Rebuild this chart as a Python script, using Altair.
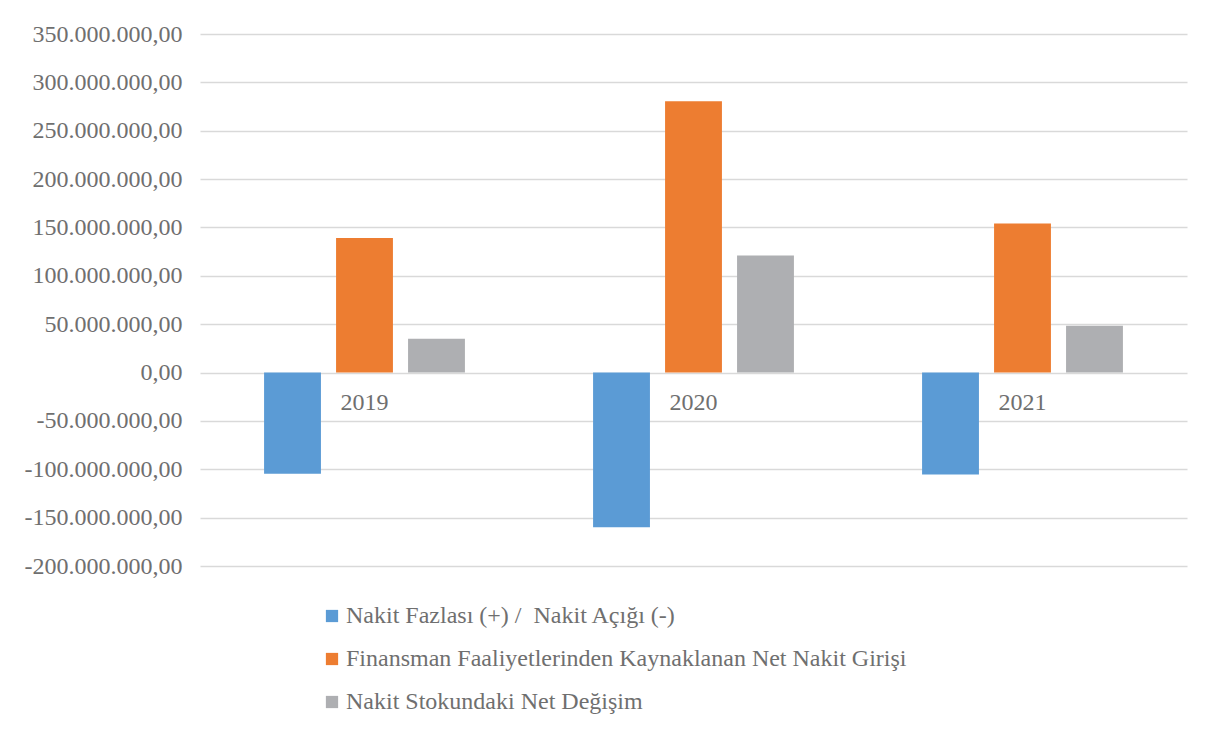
import altair as alt
import pandas as pd

years = ["2019", "2020", "2021"]
series = [
    "Nakit Fazlası (+) /  Nakit Açığı (-)",
    "Finansman Faaliyetlerinden Kaynaklanan Net Nakit Girişi",
    "Nakit Stokundaki Net Değişim",
]
nakit_fazlasi = [-104500000, -160000000, -105500000]
finansman = [139000000, 280500000, 154000000]
stok_degisim = [35000000, 121000000, 48500000]
colors = ["#5B9BD5", "#ED7D31", "#AEAFB2"]
y_ticks = [-200000000, -150000000, -100000000, -50000000, 0, 50000000, 100000000,
           150000000, 200000000, 250000000, 300000000, 350000000]

rows = []
for vals, s in zip([nakit_fazlasi, finansman, stok_degisim], series):
    for yr, v in zip(years, vals):
        rows.append({"Yıl": yr, "Seri": s, "Değer": v})
df = pd.DataFrame(rows)
df_years = pd.DataFrame({"Yıl": years, "zero": [0] * len(years)})

FONT = "'Liberation Serif', 'Times New Roman', serif"
TXT = "#6f6f6f"
FS = 24

label_expr = ("replace(replace(replace(replace(format(datum.value, ',.2f'), regexp(',', 'g'), '_'), "
              "regexp('\\\\.', 'g'), ','), regexp('_', 'g'), '.'), '\u2212', '-')")
legend_expr = "replace(datum.label, '  ', '\u00a0 ')"

x_scale = alt.Scale(paddingInner=0, paddingOuter=0)
y_scale = alt.Scale(domain=[-200000000, 350000000], nice=False)

bars = alt.Chart(df).mark_bar().encode(
    x=alt.X("Yıl:N", scale=x_scale, axis=None, sort=years),
    xOffset=alt.XOffset("Seri:N", sort=series,
                        scale=alt.Scale(paddingInner=0.21, paddingOuter=0.89)),
    y=alt.Y("Değer:Q", scale=y_scale, title=None,
            axis=alt.Axis(values=y_ticks, labelExpr=label_expr, domain=False, ticks=False,
                          grid=True, gridColor="#d9d9d9", gridWidth=1.5,
                          labelFont=FONT, labelFontSize=FS, labelColor=TXT,
                          labelPadding=18, labelLimit=300)),
    color=alt.Color("Seri:N", sort=series,
                    scale=alt.Scale(domain=series, range=colors),
                    legend=alt.Legend(title=None, orient="none", legendX=120, legendY=570,
                                      direction="vertical", symbolType="square",
                                      symbolSize=150, symbolStrokeWidth=0,
                                      labelFont=FONT, labelFontSize=FS, labelColor=TXT,
                                      labelLimit=800, rowPadding=19, symbolOffset=0,
                                      labelOffset=2, labelExpr=legend_expr)),
)

year_text = alt.Chart(df_years).mark_text(
    font=FONT, fontSize=FS, color=TXT, dy=30, baseline="middle", align="center"
).encode(
    x=alt.X("Yıl:N", scale=x_scale, sort=years, axis=None),
    y=alt.Y("zero:Q", scale=y_scale),
    text="Yıl:N",
)

chart = alt.layer(bars, year_text).properties(
    width=987, height=532,
    autosize=alt.AutoSizeParams(type="none"),
    padding={"left": 192, "top": 26, "right": 20, "bottom": 160},
).configure(background="white").configure_view(strokeWidth=0, stroke=None)

chart.save("out.html", embed_options={"renderer": "svg", "actions": False})
